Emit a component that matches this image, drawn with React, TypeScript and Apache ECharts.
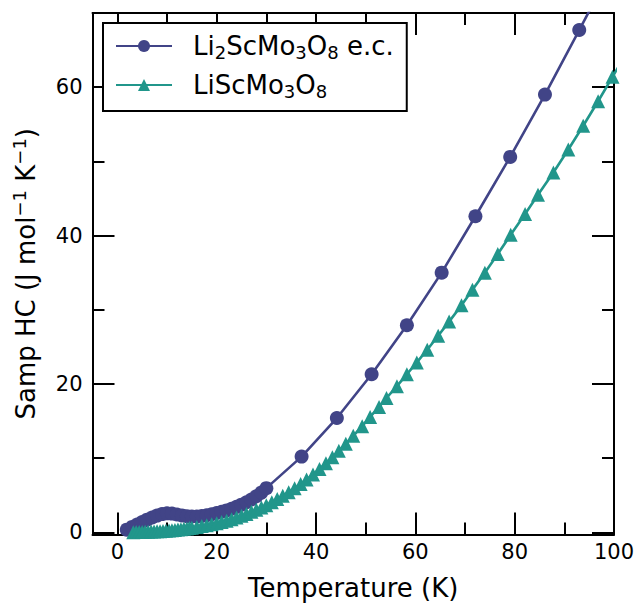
import React, { useEffect, useRef } from "react";
import * as echarts from "echarts";

const W = 643;
const H = 607;
const FONT = "DejaVu Sans";

// Li2ScMo3O8 e.c. (dense at low T, then every ~7 K)
const LI2_TEMP = [
  1.9, 3, 4, 5, 6, 7, 8, 9, 10, 11, 12, 13, 14, 15, 16, 17, 18, 19, 20, 21, 22, 23, 24, 25,
  26, 27, 28, 29, 30, 37.1, 44.2, 51.2, 58.3, 65.3, 72.1, 79.1, 86.1, 93.0, 100.0,
];
const LI2_HC = [
  0.35, 0.72, 1.05, 1.38, 1.7, 2.0, 2.25, 2.45, 2.55, 2.52, 2.4, 2.27, 2.17, 2.12, 2.13, 2.2,
  2.3, 2.43, 2.6, 2.76, 2.95, 3.17, 3.43, 3.72, 4.05, 4.42, 4.85, 5.35, 5.95, 10.2, 15.4, 21.3,
  27.9, 35.0, 42.6, 50.6, 59.0, 67.7, 76.6,
];

// LiScMo3O8
const LI_TEMP = [
  3.2, 3.8, 4.4, 5.0, 5.6, 6.2, 6.8, 7.4, 8.0, 8.6, 9.2, 9.8, 10.4, 11.0, 11.6, 12.2, 12.8,
  13.4, 14.0, 14.5, 15.0, 16.0, 17.0, 18.0, 19.0, 20.0, 21.0, 22.0, 23.0, 24.0, 25.0, 26.0,
  27.0, 28.0, 29.0, 30.0, 31.1, 32.2, 33.3, 34.5, 35.7, 36.9, 38.1, 39.4, 40.7, 42.0, 43.3,
  44.6, 46.0, 47.5, 49.3, 50.9, 52.7, 54.2, 56.3, 58.3, 60.3, 62.4, 64.6, 66.8, 69.3, 71.5,
  74.0, 76.6, 79.2, 82.1, 84.7, 87.8, 90.8, 93.8, 96.8, 99.7, 102.9,
];
const LI_HC = [
  0.02, 0.03, 0.04, 0.05, 0.06, 0.08, 0.09, 0.11, 0.13, 0.15, 0.18, 0.21, 0.24, 0.28, 0.32,
  0.36, 0.41, 0.46, 0.52, 0.57, 0.62, 0.72, 0.83, 0.95, 1.08, 1.22, 1.38, 1.56, 1.76, 1.98,
  2.22, 2.48, 2.75, 3.03, 3.33, 3.65, 4.05, 4.47, 4.91, 5.41, 5.94, 6.5, 7.1, 7.79, 8.52, 9.3,
  10.12, 10.98, 11.95, 13.0, 14.3, 15.55, 16.9, 18.1, 19.7, 21.3, 22.9, 24.6, 26.5, 28.4, 30.6,
  32.7, 35.0, 37.5, 40.1, 42.9, 45.5, 48.5, 51.6, 54.8, 58.1, 61.4, 65.0,
];

const X_MAJOR = [0, 20, 40, 60, 80, 100];
const X_MINOR = [10, 30, 50, 70, 90];
const Y_MAJOR = [0, 20, 40, 60];
const Y_MINOR = [10, 30, 50, 70];

const SERIES_NAMES = ["Li2ScMo3O8 e.c.", "LiScMo3O8"];
const LEGEND_LABELS: Record<string, string> = {
  "Li2ScMo3O8 e.c.": "{n|Li}{s|2}{n|ScMo}{s|3}{n|O}{s|8}{n| e.c.}",
  LiScMo3O8: "{n|LiScMo}{s|3}{n|O}{s|8}",
};
const COLORS = ["#414487", "#21968b"];

const X_MIN = -5;
const X_MAX = 100;
const Y_MIN = -0.3;
const Y_MAX = 70;

function xAxis(position: string, major: boolean, primary: boolean) {
  return {
    type: "value",
    position,
    min: X_MIN,
    max: X_MAX,
    axisLine: { show: major, onZero: false, lineStyle: { color: "#000", width: 2 } },
    axisTick: {
      show: true,
      inside: true,
      length: major ? 22 : 12,
      customValues: major ? X_MAJOR : X_MINOR,
      lineStyle: { color: "#000", width: 2 },
    },
    axisLabel: {
      show: primary,
      customValues: X_MAJOR,
      fontFamily: FONT,
      fontSize: 21,
      color: "#000",
      margin: 7,
    },
    splitLine: { show: false },
    ...(primary
      ? {
          name: "Temperature (K)",
          nameLocation: "middle",
          nameGap: 40,
          nameTextStyle: { fontFamily: FONT, fontSize: 26, color: "#000" },
        }
      : {}),
  };
}

function yAxis(position: string, major: boolean, primary: boolean) {
  return {
    type: "value",
    position,
    min: Y_MIN,
    max: Y_MAX,
    axisLine: { show: major, onZero: false, lineStyle: { color: "#000", width: 2 } },
    axisTick: {
      show: true,
      inside: true,
      length: major ? 22 : 12,
      customValues: major ? Y_MAJOR : Y_MINOR,
      lineStyle: { color: "#000", width: 2 },
    },
    axisLabel: {
      show: primary,
      customValues: Y_MAJOR,
      fontFamily: FONT,
      fontSize: 21,
      color: "#000",
      margin: 10,
    },
    splitLine: { show: false },
    ...(primary
      ? {
          name: "Samp HC (J mol{sup|\u22121} K{sup|\u22121})",
          nameLocation: "middle",
          nameGap: 52,
          nameTextStyle: {
            fontFamily: FONT,
            fontSize: 26,
            color: "#000",
            lineHeight: 30,
            rich: {
              sup: { fontFamily: FONT, fontSize: 18, lineHeight: 14, verticalAlign: "top", color: "#000" },
            },
          },
        }
      : {}),
  };
}

export default function App() {
  const ref = useRef<HTMLDivElement>(null);
  useEffect(() => {
    if (!ref.current) return;
    const chart = echarts.init(ref.current, null, { renderer: "svg", width: W, height: H });
    const data1 = LI2_TEMP.map((t, i) => [t, LI2_HC[i]]);
    const data2 = LI_TEMP.map((t, i) => [t, LI_HC[i]]);
    chart.setOption({
      animation: false,
      backgroundColor: "#fff",
      grid: { left: 92.5, right: 29, top: 13, bottom: 72.5, containLabel: false },
      xAxis: [
        xAxis("bottom", true, true),
        xAxis("bottom", false, false),
        xAxis("top", true, false),
        xAxis("top", false, false),
      ],
      yAxis: [
        yAxis("left", true, true),
        yAxis("left", false, false),
        yAxis("right", true, false),
        yAxis("right", false, false),
      ],
      legend: {
        left: 103,
        top: 23,
        orient: "vertical",
        selectedMode: false,
        itemWidth: 56,
        itemHeight: 15,
        itemGap: 11,
        padding: [10, 13, 11, 12],
        borderColor: "#000",
        borderWidth: 2,
        borderRadius: 0,
        backgroundColor: "#fff",
        data: SERIES_NAMES,
        formatter: (n: string) => LEGEND_LABELS[n],
        textStyle: {
          fontFamily: FONT,
          fontSize: 26,
          color: "#000",
          padding: [0, 0, 0, 16],
          rich: {
            n: { fontFamily: FONT, fontSize: 26, lineHeight: 30, color: "#000" },
            s: { fontFamily: FONT, fontSize: 18, lineHeight: 14, verticalAlign: "bottom", color: "#000" },
          },
        },
        z: 10,
      },
      series: [
        {
          type: "line",
          name: SERIES_NAMES[0],
          data: data1,
          xAxisIndex: 0,
          yAxisIndex: 0,
          symbol: "circle",
          symbolSize: 14,
          showSymbol: true,
          lineStyle: { color: COLORS[0], width: 2.6 },
          itemStyle: { color: COLORS[0] },
          z: 2,
        },
        {
          type: "line",
          name: SERIES_NAMES[1],
          data: data2,
          xAxisIndex: 0,
          yAxisIndex: 0,
          symbol: "triangle",
          symbolSize: 14,
          showSymbol: true,
          lineStyle: { color: COLORS[1], width: 2.6 },
          itemStyle: { color: COLORS[1] },
          z: 3,
        },
      ],
    });
    return () => chart.dispose();
  }, []);
  return <div ref={ref} style={{ position: "fixed", left: 0, top: 0, width: W, height: H }} />;
}
